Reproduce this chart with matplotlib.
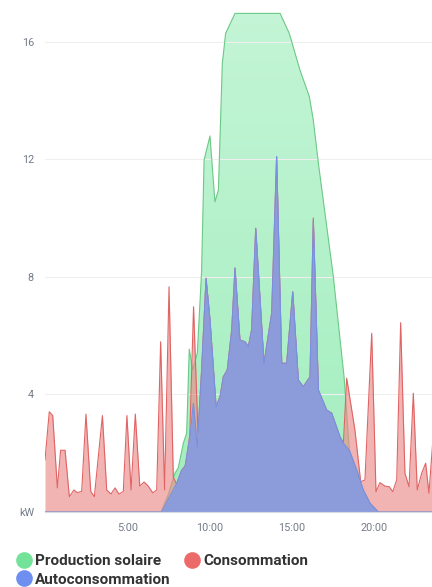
"""
Production solaire / consommation / autoconsommation sur une journée.
"""

import numpy as np
import matplotlib.pyplot as plt
from matplotlib.lines import Line2D

# Production solaire (heures, kW)
prod_h = [0, 7.05, 7.5, 7.9, 8.1, 8.41, 8.61, 8.77, 8.98, 9.26, 9.52, 9.67,
          10.03, 10.33, 10.54, 10.78, 10.98, 11.55, 14.29, 14.85, 15.5, 16.07,
          16.31, 16.62, 17.53, 18.18, 18.5, 18.95, 19.35, 19.76, 20.26, 24]
prod_kw = [0, 0, 0.6, 1.32, 1.5, 2.34, 2.68, 5.54, 4.83, 5.4, 8.2, 11.97,
           12.79, 10.55, 10.95, 15.26, 16.28, 16.96, 16.96, 16.28, 15.03, 14.13,
           13.33, 11.86, 8.0, 4.6, 2.1, 1.43, 0.75, 0.3, 0, 0]

# Consommation (heures, kW)
cons_h = [0, 0.26, 0.47, 0.75, 0.95, 1.22, 1.48, 1.76, 1.96, 2.23, 2.49, 2.78,
          3.0, 3.49, 3.75, 4.01, 4.26, 4.5, 4.76, 4.98, 5.23, 5.49, 5.76, 6.02,
          6.28, 6.55, 6.79, 7.03, 7.27, 7.54, 7.8, 8.0, 8.3, 8.55, 8.8, 9.03,
          9.3, 9.52, 9.79, 10.03, 10.4, 10.64, 10.84, 11.08, 11.35, 11.55,
          11.85, 12.16, 12.36, 12.56, 12.81, 13.31, 13.78, 14.08, 14.39, 14.69,
          15.06, 15.4, 15.7, 16.11, 16.31, 16.62, 17.12, 17.43, 17.93, 18.14,
          18.34, 18.84, 19.19, 19.45, 19.86, 20.12, 20.36, 20.67, 20.93, 21.14,
          21.38, 21.62, 21.88, 22.13, 22.39, 22.63, 22.9, 23.14, 23.34, 23.6]
cons_kw = [1.77, 3.41, 3.28, 0.82, 2.1, 2.1, 0.52, 0.75, 0.66, 0.7, 3.33, 0.7,
           0.52, 3.28, 0.75, 0.61, 0.82, 0.61, 0.7, 3.28, 0.75, 3.33, 0.88, 1.02,
           0.88, 0.65, 0.75, 5.79, 0.75, 7.66, 1.18, 0.95, 1.4, 1.6, 2.6, 6.98,
           2.7, 4.83, 7.95, 6.53, 3.58, 3.92, 4.6, 4.83, 6.19, 8.3,
           5.85, 5.79, 5.62, 6.19, 9.65, 5.06, 6.76, 12.09, 5.06, 5.06,
           7.49, 4.49, 4.26, 4.6, 10.0, 4.15, 3.47, 3.36, 2.56, 2.34,
           4.55, 2.79, 1.03, 1.09, 6.08, 0.69, 1.0, 0.88, 0.86, 0.69,
           1.09, 6.44, 1.32, 0.86, 4.04, 0.75, 1.32, 1.66, 0.64, 2.6]

# Autoconsommation (heures, kW)
auto_h = [0, 7.09, 7.5, 8.0, 8.31, 8.51, 8.81, 9.02, 9.26, 9.52, 9.79, 10.03,
          10.4, 10.64, 10.84, 11.08, 11.35, 11.55, 11.85, 12.16, 12.36, 12.56,
          12.81, 13.31, 13.78, 14.08, 14.39, 14.69, 15.06, 15.4, 15.7, 16.11,
          16.31, 16.62, 17.12, 17.43, 17.93, 18.14, 18.5, 18.95, 19.35, 19.76,
          20.26, 24]
auto_kw = [0, 0, 0.45, 0.97, 1.43, 1.55, 2.56, 3.7, 2.22, 4.83, 7.95, 6.53,
           3.58, 3.92, 4.6, 4.83, 6.19, 8.3, 5.85, 5.79, 5.62, 6.19,
           9.65, 5.06, 6.76, 12.09, 5.06, 5.06, 7.49, 4.49, 4.26, 4.6,
           9.93, 4.15, 3.47, 3.36, 2.56, 2.34, 2.1, 1.43, 0.75, 0.3,
           0, 0]

x_ticks = [5, 10, 15, 20]
x_labels = ["5:00", "10:00", "15:00", "20:00"]
y_ticks = [0, 4, 8, 12, 16]
y_labels = ["kW", "4", "8", "12", "16"]

plt.rcParams['font.family'] = ['Roboto', 'DejaVu Sans']

fig = plt.figure(figsize=(4.32, 5.87), dpi=100)
ax = fig.add_axes([45 / 432, 1 - 512 / 587, 1 - 45 / 432, 512 / 587])
xmax = (432 - 45) / 16.45
ymax = 512 / 29.4

# Production: light gradient fill (lighter at the top), clipped to the area
prod_fill = ax.fill_between(prod_h, prod_kw, color='none', lw=0)
grad = np.linspace(0, 1, 256).reshape(-1, 1)
cmap = plt.matplotlib.colors.LinearSegmentedColormap.from_list(
    'g', ['#a3eebf', '#c4f5d6'])
img = ax.imshow(grad, cmap=cmap, aspect='auto', origin='lower',
                extent=[0, xmax, 0, ymax], zorder=1)
img.set_clip_path(prod_fill.get_paths()[0], transform=ax.transData)
ax.plot(prod_h, prod_kw, color='#6cc886', lw=0.8, zorder=2)

ax.fill_between(cons_h, cons_kw, color='#ec8a8a', alpha=0.65, lw=0, zorder=3)
ax.plot(cons_h, cons_kw, color='#e06464', lw=0.8, zorder=3)

ax.fill_between(auto_h, auto_kw, color='#8a9bdc', alpha=0.97, lw=0, zorder=4)
ax.plot(auto_h, auto_kw, color='#7890e0', lw=0.8, zorder=4)

# Axes
ax.set_xlim(0, xmax)
ax.set_ylim(0, ymax)
ax.set_xticks(x_ticks, x_labels)
ax.set_yticks(y_ticks, y_labels)
ax.tick_params(length=0, labelsize=7.8, labelcolor='#747b88', pad=8)
ax.tick_params(axis='y', pad=8)
ax.grid(axis='y', color='#efefef', lw=0.8, zorder=0)
for side in ['top', 'right', 'left']:
    ax.spines[side].set_visible(False)
ax.spines['bottom'].set_color('#d8dbe6')
ax.spines['bottom'].set_linewidth(0.8)
ax.spines['bottom'].set_zorder(5)

# Legend
handles = [
    Line2D([], [], ls='', marker='o', ms=12, mec='none', color='#74e39a', label='Production solaire'),
    Line2D([], [], ls='', marker='o', ms=12, mec='none', color='#6f8ff0', label='Autoconsommation'),
    Line2D([], [], ls='', marker='o', ms=12, mec='none', color='#ec6a6a', label='Consommation'),
]
fig.legend(handles=handles, ncol=2, loc='upper left', bbox_to_anchor=(0.036, 0.056),
           frameon=False, handletextpad=0.15, columnspacing=0.9, labelspacing=0.3,
           prop={'size': 11, 'weight': 'bold'}, labelcolor='#333333',
           handlelength=1.1, borderaxespad=0, borderpad=0)

fig.savefig('out.png', dpi=100)
